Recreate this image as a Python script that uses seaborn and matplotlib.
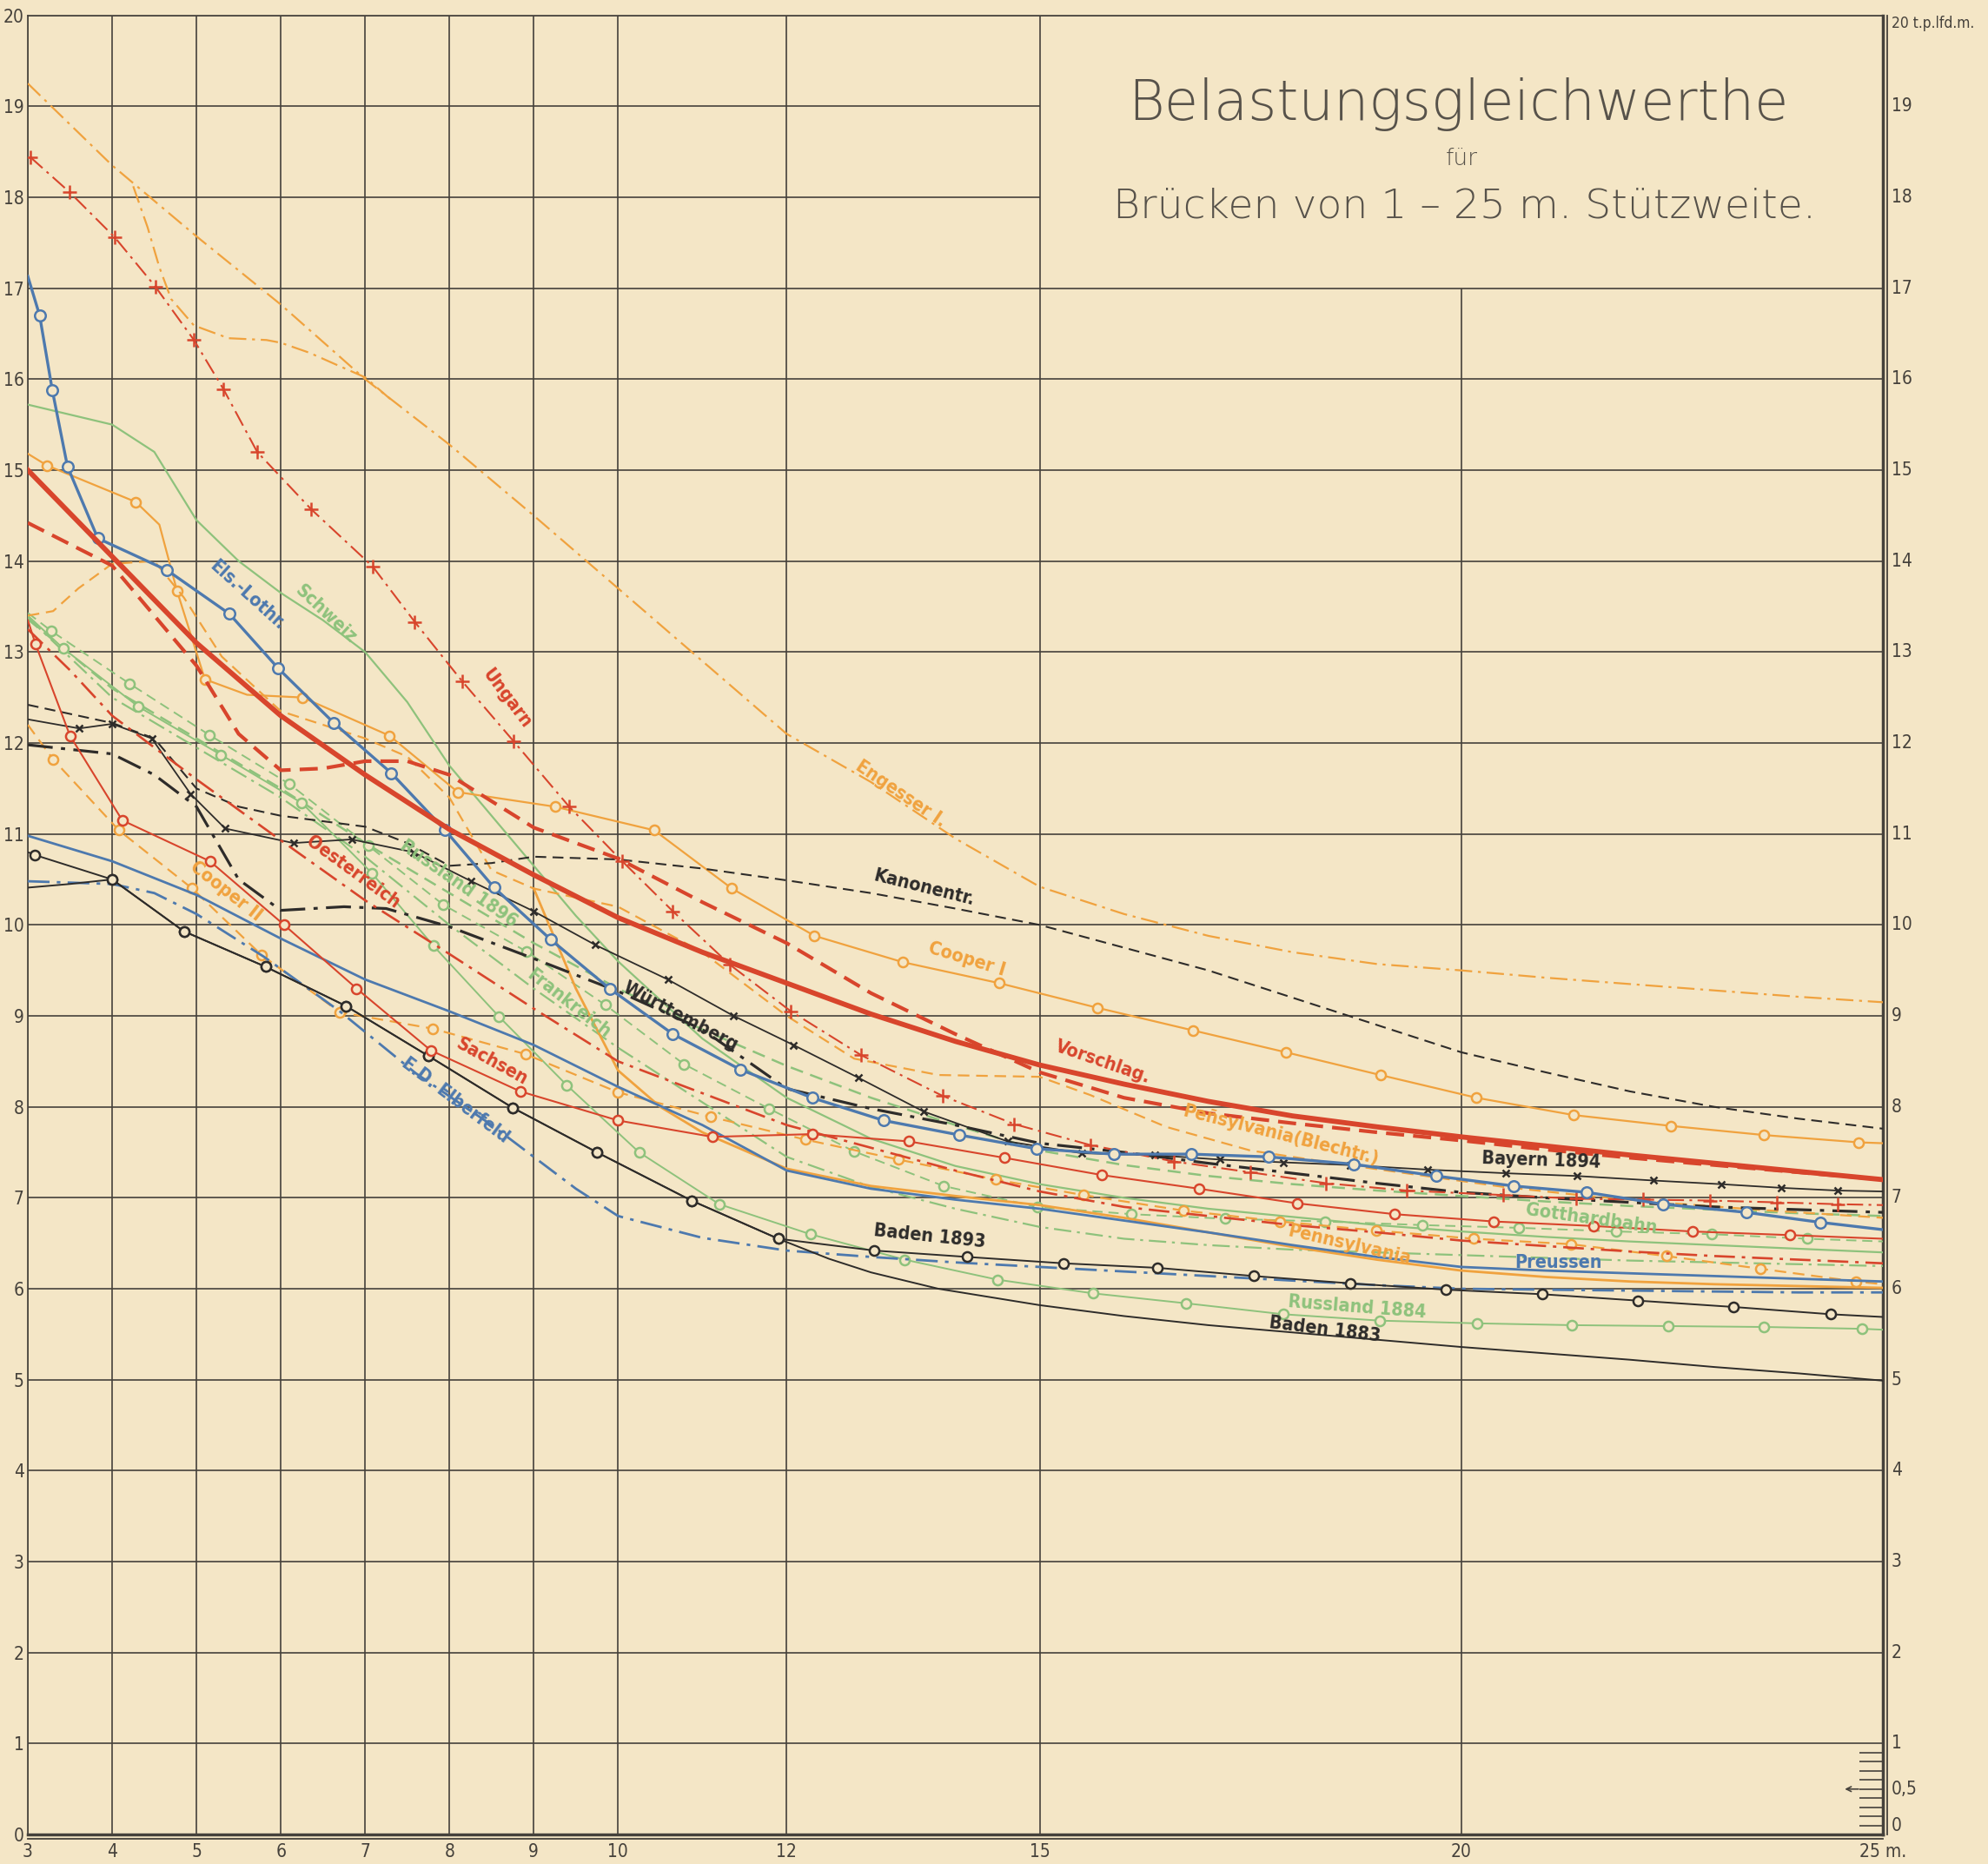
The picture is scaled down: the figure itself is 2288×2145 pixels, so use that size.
import matplotlib
matplotlib.use('Agg')
import matplotlib.pyplot as plt
from matplotlib.transforms import offset_copy
import seaborn as sns

# ---------------- grid / axes values ----------------
x_grid = [3, 4, 5, 6, 7, 8, 9, 10, 12, 15, 20, 25]
y_grid = list(range(21))
x_ticks = [3, 4, 5, 6, 7, 8, 9, 10, 12, 15, 20, 25]
x_tick_labels = ['3', '4', '5', '6', '7', '8', '9', '10', '12', '15', '20', '25 m.']
scale_y = [0.1, 0.2, 0.3, 0.4, 0.5, 0.6, 0.7, 0.8, 0.9]

# ---------------- curves ----------------
engesser_x = [3, 4, 5, 6, 7, 8, 9, 10, 11, 12, 13, 14, 15, 16, 17, 18, 19, 20, 21, 22, 23, 24, 25]
engesser_y = [19.25, 18.35, 17.57, 16.82, 16.0, 15.28, 14.5, 13.7, 12.9, 12.1, 11.57, 10.95, 10.42,
              10.12, 9.88, 9.7, 9.57, 9.5, 9.42, 9.35, 9.28, 9.21, 9.15]

engesser2_x = [4.25, 4.42, 4.56, 4.7, 4.97, 5.38, 5.83, 6.0, 6.34, 6.68, 7.0, 7.3]
engesser2_y = [18.12, 17.67, 17.23, 16.88, 16.59, 16.45, 16.43, 16.4, 16.29, 16.15, 16.02, 15.78]

ungarn_x = [3.03, 3.49, 4.03, 4.51, 4.97, 5.32, 5.72, 6.36, 7.09, 7.59, 8.15, 8.76, 9.42, 10.05, 10.65,
            11.33, 12.05, 12.88, 13.85, 14.7, 15.6, 16.59, 17.5, 18.4, 19.35, 20.5, 21.36, 22.16, 22.95,
            23.74, 24.46, 25]
ungarn_y = [18.44, 18.06, 17.56, 17.02, 16.43, 15.89, 15.2, 14.57, 13.94, 13.33, 12.68, 12.02, 11.3, 10.7,
            10.15, 9.56, 9.05, 8.57, 8.12, 7.81, 7.58, 7.4, 7.28, 7.16, 7.08, 7.03, 6.99, 6.98, 6.97,
            6.95, 6.93, 6.92]

els_x = [3, 3.14, 3.29, 3.47, 3.83, 4.65, 5.39, 5.97, 6.63, 7.31, 7.95, 8.53, 9.2, 9.9, 10.65, 11.45,
         12.3, 13.15, 14.05, 14.96, 15.88, 16.8, 17.72, 18.72, 19.7, 20.62, 21.49, 22.39, 23.38, 24.26, 25]
els_y = [17.13, 16.7, 15.88, 15.04, 14.25, 13.9, 13.42, 12.82, 12.22, 11.67, 11.04, 10.41, 9.84, 9.3,
         8.8, 8.41, 8.1, 7.85, 7.69, 7.54, 7.48, 7.48, 7.45, 7.37, 7.24, 7.13, 7.06, 6.93, 6.84, 6.73, 6.65]

schweiz_x = [3, 4, 4.5, 5, 5.5, 6, 6.5, 7, 7.5, 8, 8.5, 9, 9.5, 10, 11, 12, 13, 14, 15, 16, 17, 18,
             19, 20, 21, 22, 23, 24, 25]
schweiz_y = [15.72, 15.5, 15.2, 14.45, 14.0, 13.65, 13.35, 13.0, 12.45, 11.75, 11.2, 10.65, 10.1, 9.6,
             8.75, 8.1, 7.65, 7.35, 7.15, 7.0, 6.88, 6.79, 6.7, 6.63, 6.57, 6.52, 6.48, 6.44, 6.4]

cooper1_x = [3, 3.23, 4.28, 4.56, 4.77, 5.1, 5.6, 6.26, 7.29, 8.1, 9.25, 10.43, 11.35, 12.33, 13.38,
             14.52, 15.68, 16.82, 17.92, 19.04, 20.18, 21.33, 22.49, 23.59, 24.71, 25]
cooper1_y = [15.18, 15.05, 14.65, 14.4, 13.67, 12.7, 12.53, 12.5, 12.08, 11.46, 11.3, 11.04, 10.4, 9.88,
             9.59, 9.36, 9.09, 8.84, 8.6, 8.35, 8.1, 7.91, 7.79, 7.69, 7.61, 7.6]

vorschlag_x = [3, 4, 5, 6, 7, 8, 9, 10, 11, 12, 13, 14, 15, 16, 17, 18, 19, 20, 21, 22, 23, 24, 25]
vorschlag_y = [15.0, 14.05, 13.1, 12.3, 11.65, 11.05, 10.55, 10.08, 9.7, 9.36, 9.02, 8.72, 8.46, 8.25,
               8.06, 7.9, 7.78, 7.67, 7.57, 7.47, 7.38, 7.29, 7.2]

reddash_x = [3, 4, 5, 5.5, 6, 6.5, 7, 7.5, 8, 9, 10, 11, 12, 13, 14, 15, 16, 17, 18, 19, 20, 21, 22,
             23, 24, 25]
reddash_y = [14.42, 13.95, 12.85, 12.1, 11.7, 11.72, 11.8, 11.8, 11.65, 11.07, 10.73, 10.25, 9.8, 9.25,
             8.8, 8.38, 8.1, 7.93, 7.82, 7.72, 7.63, 7.53, 7.44, 7.36, 7.28, 7.2]

oesterreich_x = [3, 3.5, 4, 5, 6, 7, 8, 9, 10, 11, 12, 13, 14, 15, 16, 17, 18, 19, 20, 21, 22, 23, 24, 25]
oesterreich_y = [13.25, 12.8, 12.3, 11.6, 10.93, 10.27, 9.68, 9.08, 8.5, 8.15, 7.8, 7.55, 7.3, 7.07,
                 6.9, 6.8, 6.7, 6.62, 6.53, 6.47, 6.41, 6.36, 6.32, 6.28]

sachsen_x = [3, 3.09, 3.5, 4.12, 5.16, 6.04, 6.9, 7.78, 8.84, 10.0, 11.12, 12.3, 13.45, 14.58, 15.74,
             16.89, 18.05, 19.21, 20.38, 21.57, 22.74, 23.9, 25]
sachsen_y = [13.35, 13.09, 12.08, 11.15, 10.7, 10.0, 9.3, 8.62, 8.17, 7.85, 7.67, 7.7, 7.62, 7.44, 7.25,
             7.1, 6.94, 6.82, 6.74, 6.69, 6.63, 6.59, 6.55]

blechtr_x = [3, 3.3, 3.6, 4.0, 4.5, 4.85, 5.3, 6.0, 7.0, 7.5, 8.0, 8.5, 9.0, 10.0, 11.0, 12.0, 12.8,
             13.8, 15.0, 15.6, 16.5, 17.5, 18.5, 19.5, 20.5, 21.5, 22.5, 23.5, 24.5, 25]
blechtr_y = [13.4, 13.45, 13.7, 13.97, 14.0, 13.6, 12.95, 12.35, 12.05, 11.85, 11.4, 10.6, 10.4, 10.2,
             9.7, 9.0, 8.53, 8.35, 8.33, 8.13, 7.78, 7.52, 7.38, 7.25, 7.12, 7.02, 6.94, 6.87, 6.81, 6.78]

cooper2_x = [3, 3.3, 4.08, 4.95, 5.77, 6.7, 7.8, 8.9, 10.0, 11.1, 12.22, 13.33, 14.48, 15.52, 16.7,
             17.85, 18.99, 20.15, 21.3, 22.43, 23.55, 24.68, 25]
cooper2_y = [12.2, 11.82, 11.04, 10.4, 9.67, 9.04, 8.86, 8.58, 8.16, 7.89, 7.64, 7.42, 7.2, 7.03, 6.86,
             6.74, 6.64, 6.55, 6.49, 6.36, 6.22, 6.08, 6.05]

pennsylvania_x = [9.0, 9.5, 10.0, 10.5, 11.0, 12.0, 13.0, 14.0, 15.0, 16.0, 17.0, 18.0, 19.0, 20.0,
                  21.0, 22.0, 23.0, 24.0, 25.0]
pennsylvania_y = [10.4, 9.3, 8.4, 8.0, 7.72, 7.32, 7.13, 7.02, 6.92, 6.78, 6.62, 6.46, 6.32, 6.2, 6.13,
                  6.08, 6.05, 6.03, 6.01]

preussen_x = [3, 4, 5, 6, 7, 8, 9, 10, 11, 12, 13, 14, 15, 16, 17, 18, 19, 20, 21, 22, 23, 24, 25]
preussen_y = [10.98, 10.7, 10.33, 9.85, 9.4, 9.05, 8.68, 8.22, 7.8, 7.3, 7.1, 6.98, 6.88, 6.75, 6.62,
              6.48, 6.35, 6.24, 6.2, 6.17, 6.14, 6.11, 6.08]

elberfeld_x = [3, 4, 4.5, 5, 5.8, 6.7, 7.6, 8.5, 9.5, 10, 11, 12, 13, 14, 15, 16, 17, 18, 19, 20, 21,
               22, 23, 24, 25]
elberfeld_y = [10.48, 10.45, 10.35, 10.12, 9.65, 9.05, 8.37, 7.8, 7.1, 6.8, 6.56, 6.42, 6.35, 6.29,
               6.24, 6.19, 6.14, 6.09, 6.04, 6.0, 5.99, 5.98, 5.97, 5.96, 5.96]

baden1883_x = [3, 3.08, 4.0, 4.85, 5.82, 6.77, 7.75, 8.75, 9.75, 10.87, 11.9, 12.5, 13.0, 13.8, 15,
               16, 17, 18, 19, 20, 21, 22, 23, 24, 25]
baden1883_y = [10.8, 10.77, 10.5, 9.93, 9.54, 9.11, 8.56, 7.99, 7.5, 6.97, 6.55, 6.33, 6.18, 6.0, 5.82,
               5.7, 5.6, 5.52, 5.44, 5.36, 5.29, 5.22, 5.14, 5.07, 4.99]

baden1893_x = [3, 3.5, 4.0, 4.85, 5.82, 6.77, 7.75, 8.75, 9.75, 10.87, 11.9, 13.04, 14.14, 15.28,
               16.4, 17.54, 18.68, 19.82, 20.96, 22.09, 23.23, 24.38, 25]
baden1893_y = [10.41, 10.45, 10.5, 9.93, 9.54, 9.11, 8.56, 7.99, 7.5, 6.97, 6.55, 6.42, 6.35, 6.28,
               6.23, 6.14, 6.06, 5.99, 5.94, 5.87, 5.8, 5.72, 5.69]

kanonen_x = [3, 4, 4.5, 5, 5.5, 6, 7, 7.5, 8, 8.5, 9, 10, 11, 12, 13, 14, 15, 16, 17, 18, 19, 20, 21,
             22, 23, 24, 25]
kanonen_y = [12.42, 12.22, 12.05, 11.5, 11.3, 11.2, 11.08, 10.9, 10.65, 10.68, 10.75, 10.72, 10.62,
             10.49, 10.35, 10.18, 10.0, 9.75, 9.5, 9.2, 8.9, 8.6, 8.38, 8.17, 8.0, 7.87, 7.76]

bayern_x = [3, 3.61, 4, 4.47, 4.93, 5.34, 6.15, 6.84, 7.57, 8.26, 9.0, 9.73, 10.59, 11.37, 12.08,
            12.85, 13.62, 14.62, 15.5, 16.36, 17.14, 17.89, 18.68, 19.6, 20.53, 21.37, 22.28, 23.08,
            23.79, 24.46, 25]
bayern_y = [12.26, 12.16, 12.21, 12.05, 11.44, 11.06, 10.9, 10.94, 10.8, 10.48, 10.15, 9.78, 9.4, 9.0,
            8.68, 8.32, 7.95, 7.62, 7.49, 7.47, 7.42, 7.39, 7.36, 7.31, 7.27, 7.24, 7.19, 7.15, 7.11,
            7.08, 7.07]

wuertt_x = [3, 4, 4.5, 5, 5.5, 6, 6.75, 7.25, 8, 9, 10, 11, 12, 13, 14, 15, 16, 17, 18, 19, 20, 21, 22,
            23, 24, 25]
wuertt_y = [11.98, 11.88, 11.65, 11.3, 10.5, 10.16, 10.2, 10.18, 9.98, 9.63, 9.27, 8.85, 8.2, 7.98, 7.8,
            7.6, 7.5, 7.38, 7.27, 7.16, 7.06, 7.0, 6.95, 6.9, 6.87, 6.84]

russ1896_x = [3, 3.28, 4.21, 5.15, 6.1, 7.04, 7.93, 8.91, 9.85, 10.78, 11.79, 12.8, 13.86, 14.97,
              16.09, 17.2, 18.38, 19.54, 20.68, 21.84, 22.97, 24.1, 25]
russ1896_y = [13.43, 13.23, 12.65, 12.09, 11.55, 10.87, 10.22, 9.71, 9.12, 8.47, 7.98, 7.51, 7.13, 6.9,
              6.82, 6.77, 6.74, 6.7, 6.67, 6.63, 6.6, 6.55, 6.52]

russ1884_x = [3, 3.42, 4.31, 5.29, 6.25, 7.08, 7.81, 8.59, 9.39, 10.25, 11.2, 12.28, 13.4, 14.5, 15.63,
              16.74, 17.89, 19.03, 20.19, 21.31, 22.45, 23.59, 24.75, 25]
russ1884_y = [13.4, 13.04, 12.4, 11.87, 11.34, 10.57, 9.77, 8.99, 8.24, 7.5, 6.93, 6.6, 6.32, 6.1, 5.95,
              5.84, 5.72, 5.65, 5.62, 5.6, 5.59, 5.58, 5.56, 5.55]

frankreich_x = [3, 4, 5, 6, 7, 8, 9, 10, 11, 12, 13, 14, 15, 16, 17, 18, 19, 20, 21, 22, 23, 24, 25]
frankreich_y = [13.38, 12.5, 11.95, 11.4, 10.75, 10.0, 9.3, 8.65, 8.05, 7.45, 7.12, 6.88, 6.68, 6.55,
                6.48, 6.43, 6.4, 6.37, 6.34, 6.31, 6.29, 6.27, 6.25]

gotthard_x = [3, 4, 5, 6, 7, 8, 9, 10, 11, 12, 13, 14, 15, 16, 17, 18, 19, 20, 21, 22, 23, 24, 25]
gotthard_y = [13.36, 12.6, 12.05, 11.5, 10.9, 10.35, 9.8, 9.3, 8.85, 8.45, 8.1, 7.8, 7.52, 7.36, 7.24,
              7.15, 7.08, 7.02, 6.96, 6.91, 6.87, 6.83, 6.8]

# ---------------- labels written along the curves ----------------
curve_labels = ['Ungarn', 'Schweiz', 'Els.-Lothr.', 'Engesser I.', 'Kanonentr.', 'Cooper I',
                'Vorschlag.', 'Peñsylvania(Blechtr.)', 'Bayern 1894', 'Gotthardbahn', 'Pennsylvania',
                'Preussen', 'Russland 1884', 'Baden 1883', 'Baden 1893', 'Württemberg', 'Frankreich',
                'Russland 1896', 'Oesterreich', 'Sachsen', 'E.D. Elberfeld', 'Cooper II']
label_x = [8.68, 6.53, 5.6, 13.35, 13.63, 14.14, 15.75, 17.86, 20.95, 21.54, 18.67, 21.15, 18.76,
           18.38, 13.69, 10.74, 9.42, 8.11, 6.86, 8.5, 8.07, 5.35]
label_y = [12.49, 13.42, 13.62, 11.44, 10.41, 9.62, 8.49, 7.69, 7.41, 6.77, 6.48, 6.29, 5.8, 5.55,
           6.58, 8.99, 9.13, 10.45, 10.58, 8.5, 8.07, 10.37]
label_rot = [-53, -43, -42, -34, -14, -17, -19, -14, -2, -8, -13, 0, -4.5, -7, -6, -28, -38, -35, -36,
             -29, -37, -38]

# ---------------- style ----------------
PAPER = '#f4e6c6'
INK = '#45413b'
RED = '#d8452c'
ORANGE = '#f0a23e'
GREEN = '#8ec27c'
BLUE = '#4d79ae'
BLACK = '#2e2c2a'
label_colors = [RED, GREEN, BLUE, ORANGE, BLACK, ORANGE, RED, ORANGE, BLACK, GREEN, ORANGE, BLUE,
                GREEN, BLACK, BLACK, BLACK, GREEN, GREEN, RED, RED, BLUE, ORANGE]

DASHDOT = (0, (9, 3, 1.5, 3))
DASH = (0, (6, 3.5))

plt.rcParams['font.family'] = ['DejaVu Sans']

fig = plt.figure(figsize=(22.88, 21.45), dpi=100, facecolor=PAPER)
ax = fig.add_axes([0.014, 0.0158, 0.9331, 0.976])
ax.set_facecolor(PAPER)
ax.set_xlim(3, 25)
ax.set_ylim(0, 20)

# grid (title box at the top right stays free)
for gx in x_grid:
    top = 17 if gx == 20 else 20
    ax.vlines(gx, 0, top, color=INK, lw=1.2, zorder=1)
for gy in y_grid:
    right = 15 if gy in (18, 19) else 25
    ax.hlines(gy, 3, right, color=INK, lw=1.2, zorder=1)

# small scale at the lower right
ax.hlines(scale_y, 24.72, 25, color=INK, lw=1.2, zorder=1)
ax.annotate('', xy=(24.52, 0.5), xytext=(24.74, 0.5),
            arrowprops=dict(arrowstyle='->', color=INK, lw=1.2))

curves = [
    dict(x=engesser_x, y=engesser_y, c=ORANGE, ls=DASHDOT, lw=1.6),
    dict(x=engesser2_x, y=engesser2_y, c=ORANGE, ls=DASHDOT, lw=1.6),
    dict(x=schweiz_x, y=schweiz_y, c=GREEN, ls='-', lw=1.6),
    dict(x=gotthard_x, y=gotthard_y, c=GREEN, ls=DASH, lw=1.8),
    dict(x=frankreich_x, y=frankreich_y, c=GREEN, ls=DASHDOT, lw=1.6),
    dict(x=russ1896_x, y=russ1896_y, c=GREEN, ls=DASH, lw=1.4, m='o', me=slice(1, -1)),
    dict(x=russ1884_x, y=russ1884_y, c=GREEN, ls='-', lw=1.4, m='o', me=slice(1, -1)),
    dict(x=cooper1_x, y=cooper1_y, c=ORANGE, ls='-', lw=1.6, m='o',
         me=[1, 2, 4, 5, 7, 8, 9, 10, 11, 12, 13, 14, 15, 16, 17, 18, 19, 20, 21, 22, 23, 24]),
    dict(x=blechtr_x, y=blechtr_y, c=ORANGE, ls=DASH, lw=1.6),
    dict(x=cooper2_x, y=cooper2_y, c=ORANGE, ls=DASH, lw=1.6, m='o', me=slice(1, -1)),
    dict(x=pennsylvania_x, y=pennsylvania_y, c=ORANGE, ls='-', lw=2.0),
    dict(x=preussen_x, y=preussen_y, c=BLUE, ls='-', lw=2.0),
    dict(x=elberfeld_x, y=elberfeld_y, c=BLUE, ls=DASHDOT, lw=2.0),
    dict(x=baden1883_x, y=baden1883_y, c=BLACK, ls='-', lw=1.4, m='o', me=list(range(1, 11))),
    dict(x=baden1893_x, y=baden1893_y, c=BLACK, ls='-', lw=1.4, m='o', me=list(range(2, 22))),
    dict(x=kanonen_x, y=kanonen_y, c=BLACK, ls=DASH, lw=1.5),
    dict(x=bayern_x, y=bayern_y, c=BLACK, ls='-', lw=1.3, m='x', me=slice(1, -1), ms=6),
    dict(x=wuertt_x, y=wuertt_y, c=BLACK, ls=DASHDOT, lw=2.3),
    dict(x=oesterreich_x, y=oesterreich_y, c=RED, ls=DASHDOT, lw=1.9),
    dict(x=sachsen_x, y=sachsen_y, c=RED, ls='-', lw=1.5, m='o', me=slice(1, -1)),
    dict(x=ungarn_x, y=ungarn_y, c=RED, ls=DASHDOT, lw=1.5, m='+', me=slice(0, -1), ms=11),
    dict(x=els_x, y=els_y, c=BLUE, ls='-', lw=2.4, m='o', me=slice(1, -1), ms=9),
    dict(x=reddash_x, y=reddash_y, c=RED, ls=(0, (5, 2.5)), lw=3.0),
    dict(x=vorschlag_x, y=vorschlag_y, c=RED, ls='-', lw=4.2),
]

for cv in curves:
    kw = dict(color=cv['c'], linestyle=cv['ls'], linewidth=cv['lw'], zorder=3)
    if 'm' in cv:
        kw.update(marker=cv['m'], markevery=cv['me'], markersize=cv.get('ms', 8),
                  markerfacecolor=PAPER, markeredgecolor=cv['c'], markeredgewidth=1.8)
    sns.lineplot(x=cv['x'], y=cv['y'], ax=ax, sort=False, estimator=None, **kw)

for txt, lx, ly, rot, col in zip(curve_labels, label_x, label_y, label_rot, label_colors):
    ax.text(lx, ly, txt, color=col, fontsize=15.5, fontweight='bold', fontstretch='condensed',
            rotation=rot, rotation_mode='anchor', ha='center', va='center', zorder=5)

# title
TITLE_INK = '#57524a'
ax.text(19.96, 19.02, 'Belastungsgleichwerthe', fontsize=46, color=TITLE_INK, fontweight='ultralight',
        ha='center', va='center')
ax.text(20.0, 18.42, 'für', fontsize=19, color=TITLE_INK, fontweight='ultralight',
        ha='center', va='center')
ax.text(20.04, 17.9, 'Brücken von 1 – 25 m. Stützweite.', fontsize=34, color=TITLE_INK,
        fontweight='ultralight', ha='center', va='center')

# axes frame
for s in ['top', 'left']:
    ax.spines[s].set_color(INK)
    ax.spines[s].set_linewidth(1.2)
for s in ['right', 'bottom']:
    ax.spines[s].set_color(INK)
    ax.spines[s].set_linewidth(2.5)
ax.plot([25, 25], [0, 20], color=INK, lw=1.3, clip_on=False,
        transform=offset_copy(ax.transData, fig=fig, x=5, y=0, units='dots'))
ax.plot([3, 25], [0, 0], color=INK, lw=1.3, clip_on=False,
        transform=offset_copy(ax.transData, fig=fig, x=0, y=-5, units='dots'))

ax.set_xticks(x_ticks)
ax.set_xticklabels(x_tick_labels)
ax.set_yticks(y_grid)
ax.set_yticklabels([str(v) for v in y_grid])
ax.tick_params(length=0, labelsize=15, labelcolor=INK, pad=3)
ax.tick_params(axis='x', pad=7)
for lab in ax.get_xticklabels() + ax.get_yticklabels():
    lab.set_fontstretch('condensed')

ax2 = ax.twinx()
ax2.set_ylim(0, 20)
right_ticks = [0, 0.5] + y_grid[1:]
right_labels = ['0', '0,5'] + [str(v) for v in y_grid[1:-1]] + ['20 t.p.lfd.m.']
ax2.set_yticks(right_ticks)
ax2.set_yticklabels(right_labels)
ax2.tick_params(length=0, labelsize=15, labelcolor=INK, pad=7)
for lab in ax2.get_yticklabels():
    lab.set_fontstretch('condensed')
    lab.set_va('center')
ax2.get_yticklabels()[0].set_va('bottom')
ax2.get_yticklabels()[-1].set_fontsize(12.5)
ax2.get_yticklabels()[-1].set_va('top')
for s in ax2.spines.values():
    s.set_visible(False)

fig.savefig('out.png', dpi=100, facecolor=PAPER)
